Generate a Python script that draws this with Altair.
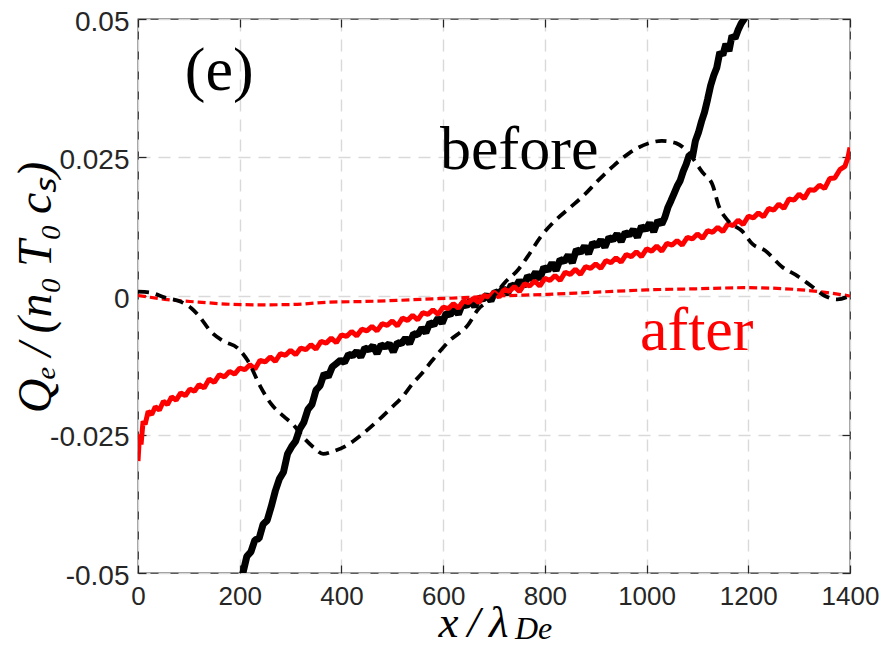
import altair as alt
import pandas as pd

# ---------------- data ----------------
before_solid_x = [205, 214, 222, 230, 238, 246, 254, 262, 270, 278, 286, 294, 302, 310, 318, 326, 334, 342, 350, 358,
                  366, 374, 382, 390, 398, 406, 414, 422, 430, 438, 446, 454, 462, 470, 478, 486, 494, 502, 510, 518,
                  526, 534, 542, 550, 558, 566, 574, 582, 590, 598, 606, 614, 622, 630, 638, 646, 654, 662, 670, 678,
                  686, 694, 702, 710, 718, 726, 734, 742, 750, 758, 766, 774, 782, 790, 798, 806, 814, 822, 830, 838,
                  846, 854, 862, 870, 878, 886, 894, 902, 910, 918, 926, 934, 942, 950, 958, 966, 974, 982, 990, 998,
                  1006, 1014, 1022, 1030, 1036, 1042, 1048, 1054, 1060, 1066, 1072, 1078, 1084, 1090, 1096, 1102, 1108,
                  1114, 1120, 1126, 1132, 1138, 1144, 1150, 1156, 1162, 1168, 1174, 1180, 1186, 1192, 1200]
before_solid_y = [-0.0505, -0.0470, -0.0462, -0.0440, -0.0438, -0.0412, -0.0405, -0.0380, -0.0352, -0.0330,
                  -0.0318, -0.0285, -0.0272, -0.0262, -0.0240, -0.0228, -0.0205, -0.0196, -0.0170, -0.0162,
                  -0.0140, -0.0146, -0.0128, -0.0122, -0.0116, -0.0120, -0.0105, -0.0108, -0.0100, -0.0110,
                  -0.0094, -0.0097, -0.0090, -0.0104, -0.0088, -0.0092, -0.0086, -0.0101, -0.0084, -0.0086,
                  -0.0076, -0.0086, -0.0068, -0.0070, -0.0058, -0.0066, -0.0048, -0.0052, -0.0040, -0.0049,
                  -0.0031, -0.0034, -0.0022, -0.0033, -0.0014, -0.0018, -0.0008, -0.0019, -0.0003, -0.0006,
                  0.0002, -0.0009, 0.0008, 0.0004, 0.0014, 0.0003, 0.0020, 0.0016, 0.0028, 0.0017,
                  0.0036, 0.0031, 0.0043, 0.0030, 0.0052, 0.0046, 0.0060, 0.0046, 0.0066, 0.0062,
                  0.0074, 0.0060, 0.0084, 0.0078, 0.0090, 0.0076, 0.0096, 0.0090, 0.0101, 0.0088,
                  0.0106, 0.0101, 0.0112, 0.0098, 0.0115, 0.0110, 0.0120, 0.0106, 0.0126, 0.0119,
                  0.0132, 0.0116, 0.0136, 0.0130, 0.0142, 0.0160, 0.0172, 0.0185, 0.0198, 0.0208,
                  0.0225, 0.0238, 0.0255, 0.0250, 0.0280, 0.0295, 0.0315, 0.0332, 0.0355, 0.0380,
                  0.0398, 0.0412, 0.0440, 0.0435, 0.0455, 0.0442, 0.0470, 0.0465, 0.0480, 0.0492,
                  0.0500, 0.0515]

after_solid_x = [0, 3, 6, 10, 14, 20, 27, 34, 42, 50, 58, 66, 75, 84, 93, 102, 111, 120, 130, 140, 150, 160, 170,
                 180, 190, 200, 210, 220, 230, 240, 250, 260, 270, 280, 290, 300, 310, 320, 330, 340, 350, 360, 370,
                 380, 390, 400, 410, 420, 430, 440, 450, 460, 470, 480, 490, 500, 510, 520, 530, 540, 550, 560, 570,
                 580, 590, 600, 610, 620, 630, 640, 650, 660, 670, 680, 690, 700, 710, 720, 730, 740, 750, 760, 770,
                 780, 790, 800, 810, 820, 830, 840, 850, 860, 870, 880, 890, 900, 910, 920, 930, 940, 950, 960, 970,
                 980, 990, 1000, 1010, 1020, 1030, 1040, 1050, 1060, 1070, 1080, 1090, 1100, 1110, 1120, 1130, 1140,
                 1150, 1160, 1170, 1180, 1190, 1200, 1210, 1220, 1230, 1240, 1250, 1260, 1270, 1280, 1290, 1300,
                 1310, 1320, 1330, 1340, 1350, 1360, 1370, 1380, 1390, 1396, 1400]
after_solid_y = [-0.0298, -0.0250, -0.0268, -0.0226, -0.0232, -0.0208, -0.0214, -0.0200, -0.0206, -0.0190,
                 -0.0196, -0.0182, -0.0188, -0.0175, -0.0180, -0.0168, -0.0172, -0.0160, -0.0166, -0.0150,
                 -0.0156, -0.0142, -0.0146, -0.0136, -0.0141, -0.0130, -0.0133, -0.0124, -0.0132, -0.0116,
                 -0.0119, -0.0110, -0.0118, -0.0104, -0.0107, -0.0098, -0.0106, -0.0094, -0.0097, -0.0088,
                 -0.0096, -0.0082, -0.0085, -0.0076, -0.0084, -0.0070, -0.0073, -0.0064, -0.0072, -0.0060,
                 -0.0063, -0.0055, -0.0063, -0.0050, -0.0053, -0.0045, -0.0054, -0.0040, -0.0044, -0.0035,
                 -0.0043, -0.0030, -0.0033, -0.0025, -0.0033, -0.0020, -0.0023, -0.0014, -0.0022, -0.0009,
                 -0.0012, -0.0004, -0.0012, 0.0001, -0.0002, 0.0007, -0.0002, 0.0012, 0.0008, 0.0017,
                 0.0008, 0.0022, 0.0018, 0.0027, 0.0018, 0.0032, 0.0028, 0.0037, 0.0028, 0.0043,
                 0.0039, 0.0048, 0.0039, 0.0053, 0.0050, 0.0058, 0.0050, 0.0064, 0.0060, 0.0069,
                 0.0061, 0.0075, 0.0071, 0.0080, 0.0071, 0.0085, 0.0081, 0.0090, 0.0081, 0.0095,
                 0.0092, 0.0100, 0.0092, 0.0106, 0.0103, 0.0112, 0.0104, 0.0118, 0.0115, 0.0124,
                 0.0116, 0.0130, 0.0127, 0.0137, 0.0129, 0.0144, 0.0141, 0.0150, 0.0143, 0.0158,
                 0.0155, 0.0166, 0.0158, 0.0175, 0.0173, 0.0184, 0.0176, 0.0192, 0.0191, 0.0200,
                 0.0194, 0.0212, 0.0213, 0.0228, 0.0234, 0.0250, 0.0268]

before_dashed_x = [0, 25, 53, 86, 105, 119, 144, 169, 196, 216, 241, 261, 286, 305, 325, 345, 364, 385, 410, 440,
                   474, 500, 519, 540, 558, 578, 611, 649, 669, 694, 721, 747, 766, 791, 819, 850, 877, 902, 935,
                   966, 1005, 1030, 1058, 1083, 1110, 1130, 1141, 1161, 1188, 1208, 1233, 1266, 1297, 1324, 1349,
                   1375, 1400]
before_dashed_y = [0.0008, 0.0006, -0.0003, -0.0011, -0.0022, -0.0035, -0.0065, -0.0082, -0.0094, -0.0117,
                   -0.0164, -0.0194, -0.0217, -0.0232, -0.0255, -0.0273, -0.0285, -0.0280, -0.0270, -0.0250,
                   -0.0223, -0.0200, -0.0183, -0.0158, -0.0140, -0.0117, -0.0082, -0.0052, -0.0024, -0.0006,
                   0.0024, 0.0047, 0.0071, 0.0106, 0.0135, 0.0160, 0.0182, 0.0206, 0.0235, 0.0258, 0.0276,
                   0.0280, 0.0276, 0.0258, 0.0223, 0.0200, 0.0165, 0.0135, 0.0117, 0.0094, 0.0082, 0.0053,
                   0.0036, 0.0018, 0.0001, -0.0006, 0.0000]

after_dashed_x = [0, 53, 119, 183, 247, 313, 377, 442, 508, 558, 640, 708, 805, 902, 1000, 1097, 1194, 1291, 1355, 1400]
after_dashed_y = [0.0001, -0.0006, -0.0011, -0.0015, -0.0016, -0.0015, -0.0011, -0.0010, -0.0008, -0.0006,
                  -0.0003, 0.0000, 0.0003, 0.0007, 0.0011, 0.0013, 0.0015, 0.0012, 0.0006, 0.0000]

x_ticks = [0, 200, 400, 600, 800, 1000, 1200, 1400]
y_ticks = [-0.05, -0.025, 0, 0.025, 0.05]

labels = ["before", "after", "(e)"]
label_x = [594, 987, 92]
label_y = [0.0229, -0.0098, 0.0372]
label_color = ["#000000", "#ff0000", "#000000"]


def frame(xs, ys):
    return pd.DataFrame({"x": xs, "y": ys})


xscale = alt.Scale(domain=[0, 1400], nice=False, zero=False)
yscale = alt.Scale(domain=[-0.05, 0.05], nice=False, zero=False)

AX = "#262626"
GRID = dict(grid=True, gridDash=[12, 8], gridColor="#d9d9d9", gridWidth=1.4)

main_x_axis = alt.Axis(values=x_ticks, format="d", title="x\u2009/\u2009λ", domain=False, ticks=False, tickSize=0,
                       labelFont="Liberation Sans", labelFontSize=26, labelColor=AX, labelPadding=10,
                       labelFlush=False, labelOverlap=False, orient="bottom",
                       titleFont="Liberation Serif", titleFontStyle="italic", titleFontWeight="normal",
                       titleFontSize=45, titleColor="#000000", titleAlign="left", titleBaseline="alphabetic",
                       titleX=300, titleY=63, **GRID)
main_y_axis = alt.Axis(values=y_ticks, labelExpr="toString(datum.value)",
                       title="Qₑ\u2009/\u2009(n₀\u2009T₀\u2009cₛ)",
                       domain=False, ticks=False, tickSize=0, orient="left",
                       labelFont="Liberation Sans", labelFontSize=28, labelColor=AX, labelPadding=9,
                       labelOffset=3, labelFlush=False, labelOverlap=False,
                       titleFont="Liberation Serif", titleFontStyle="italic", titleFontWeight="normal",
                       titleFontSize=48, titleColor="#000000", titleAngle=270, titleAlign="center",
                       titleBaseline="alphabetic", titleX=-88, titleY=268, **GRID)


def tick_axis(vals, orient):
    return alt.Axis(values=vals, orient=orient, offset=-8, tickSize=8, ticks=True, tickColor=AX, tickWidth=1.2,
                    labels=False, domain=False, grid=False, title=None)


black_solid = alt.Chart(frame(before_solid_x, before_solid_y)).mark_line(
    color="#000000", strokeWidth=7, clip=True, strokeJoin="bevel"
).encode(
    x=alt.X("x:Q", scale=xscale, axis=main_x_axis),
    y=alt.Y("y:Q", scale=yscale, axis=main_y_axis),
    order="x:Q",
)

red_solid = alt.Chart(frame(after_solid_x, after_solid_y)).mark_line(
    color="#ff0000", strokeWidth=5, clip=True, strokeJoin="bevel"
).encode(
    x=alt.X("x:Q", scale=xscale, axis=None),
    y=alt.Y("y:Q", scale=yscale, axis=None),
    order="x:Q",
)

red_dashed = alt.Chart(frame(after_dashed_x, after_dashed_y)).mark_line(
    color="#ff0000", strokeWidth=3.2, strokeDash=[8, 4], clip=True, interpolate="monotone"
).encode(
    x=alt.X("x:Q", scale=xscale, axis=None),
    y=alt.Y("y:Q", scale=yscale, axis=None),
)

black_dashed = alt.Chart(frame(before_dashed_x, before_dashed_y)).mark_line(
    color="#000000", strokeWidth=3.8, strokeDash=[11, 7], clip=True, interpolate="monotone"
).encode(
    x=alt.X("x:Q", scale=xscale, axis=None),
    y=alt.Y("y:Q", scale=yscale, axis=None),
)

ticks_bl = alt.Chart(frame(after_dashed_x, after_dashed_y)).mark_point(opacity=0).encode(
    x=alt.X("x:Q", scale=xscale, axis=tick_axis(x_ticks, "bottom")),
    y=alt.Y("y:Q", scale=yscale, axis=tick_axis(y_ticks, "left")),
)
ticks_tr = alt.Chart(frame(after_dashed_x, after_dashed_y)).mark_point(opacity=0).encode(
    x=alt.X("x:Q", scale=xscale, axis=tick_axis(x_ticks, "top")),
    y=alt.Y("y:Q", scale=yscale, axis=tick_axis(y_ticks, "right")),
)

ann = alt.Chart(pd.DataFrame({"t": labels, "x": label_x, "y": label_y, "c": label_color})).mark_text(
    font="Liberation Serif", fontSize=62, align="left", baseline="alphabetic"
).encode(
    x=alt.X("x:Q", scale=xscale, axis=None),
    y=alt.Y("y:Q", scale=yscale, axis=None),
    text="t:N",
    color=alt.Color("c:N", scale=None),
)

subscript = alt.Chart(pd.DataFrame({"t": ["De"]})).mark_text(
    font="Liberation Serif", fontStyle="italic", fontSize=32, align="left", baseline="alphabetic", color="#000000"
).encode(
    x=alt.value(377),
    y=alt.value(620),
    text="t:N",
)

chart = alt.layer(
    black_solid, red_solid, red_dashed, black_dashed, ticks_bl, ticks_tr, ann, subscript
).resolve_axis(
    x="independent", y="independent"
).properties(
    width=712, height=554,
    padding={"left": 130, "top": 11, "right": 31, "bottom": 74},
    autosize=alt.AutoSizeParams(type="none"),
).configure_view(
    stroke=AX, strokeWidth=1.3
)

chart.save("out.html", embed_options={"renderer": "svg", "actions": False})
